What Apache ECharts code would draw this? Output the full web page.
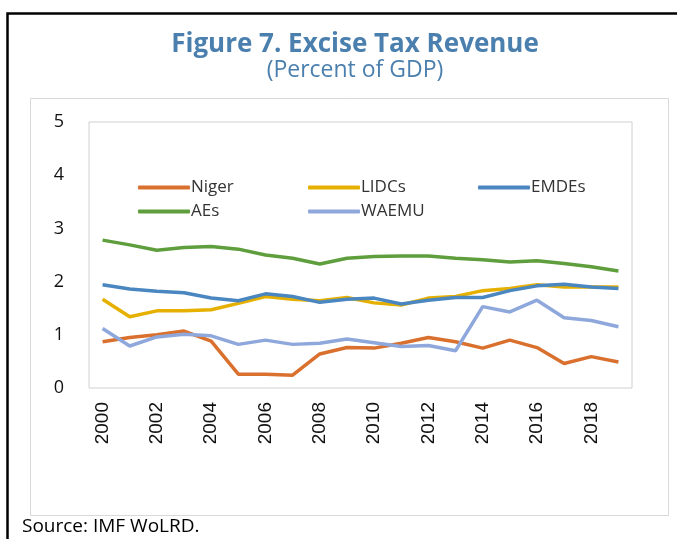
<!DOCTYPE html>
<html>
<head>
<meta charset="utf-8">
<script src="https://cdn.jsdelivr.net/npm/echarts@6/dist/echarts.min.js"></script>
<style>
  html, body { margin: 0; padding: 0; background: #fff; }
  #chart { width: 677px; height: 539px; }
</style>
</head>
<body>
<div id="chart"></div>
<script>
// data
var years = ["2000", "2001", "2002", "2003", "2004", "2005", "2006", "2007", "2008", "2009",
  "2010", "2011", "2012", "2013", "2014", "2015", "2016", "2017", "2018", "2019"];
var niger = [0.87, 0.95, 1.00, 1.07, 0.88, 0.26, 0.26, 0.24, 0.64, 0.76,
  0.75, 0.84, 0.95, 0.87, 0.75, 0.90, 0.76, 0.46, 0.59, 0.49];
var lidcs = [1.67, 1.34, 1.45, 1.45, 1.47, 1.59, 1.72, 1.67, 1.64, 1.70,
  1.60, 1.56, 1.69, 1.72, 1.83, 1.87, 1.94, 1.90, 1.90, 1.90];
var emdes = [1.94, 1.86, 1.82, 1.79, 1.69, 1.64, 1.77, 1.72, 1.61, 1.67,
  1.69, 1.58, 1.65, 1.70, 1.70, 1.83, 1.92, 1.95, 1.90, 1.87];
var aes = [2.78, 2.69, 2.59, 2.64, 2.66, 2.61, 2.50, 2.44, 2.33, 2.44,
  2.47, 2.48, 2.48, 2.44, 2.41, 2.37, 2.39, 2.34, 2.28, 2.20];
var waemu = [1.12, 0.79, 0.96, 1.01, 0.98, 0.82, 0.90, 0.82, 0.84, 0.92,
  0.85, 0.78, 0.80, 0.70, 1.53, 1.43, 1.65, 1.32, 1.27, 1.15];

var font = "'Open Sans', 'Noto Sans', sans-serif";
var titleColor = "#4a7fae";

function line(name, data, color) {
  return {
    name: name,
    type: "line",
    data: data,
    symbol: "none",
    lineStyle: { width: 3.5, color: color },
    itemStyle: { color: color }
  };
}

function legendAt(name, left, top) {
  return {
    data: [name],
    left: left,
    top: top,
    itemWidth: 52,
    itemHeight: 4,
    itemGap: 0,
    icon: "roundRect",
    textStyle: { fontSize: 17, color: "#333", fontFamily: font, padding: [0, 0, 0, -4] }
  };
}

var myChart = echarts.init(document.getElementById("chart"));
myChart.setOption({
  animation: false,
  backgroundColor: "#fff",
  title: [
    {
      text: "Figure 7. Excise Tax Revenue",
      left: 350,
      top: 27,
      textAlign: "center",
      textStyle: { fontSize: 26, fontWeight: "bold", color: titleColor, fontFamily: font }
    },
    {
      text: "(Percent of GDP)",
      left: 350,
      top: 54,
      textAlign: "center",
      textStyle: { fontSize: 23, fontWeight: "normal", color: titleColor, fontFamily: font }
    }
  ],
  legend: [
    legendAt("Niger", 133, 174),
    legendAt("LIDCs", 303, 174),
    legendAt("EMDEs", 473, 174),
    legendAt("AEs", 133, 198),
    legendAt("WAEMU", 303, 198)
  ],
  graphic: [
    {
      type: "polyline",
      shape: { points: [[7.5, 539], [7.5, 13.5], [677, 13.5]] },
      style: { stroke: "#000", lineWidth: 2.5, fill: null }
    },
    {
      type: "rect",
      shape: { x: 30.5, y: 98.5, width: 638, height: 417 },
      style: { stroke: "#d9d9d9", lineWidth: 1, fill: null },
      z: -1
    },
    {
      type: "text",
      left: 22,
      top: 517,
      style: { text: "Source: IMF WoLRD.", fontSize: 19, fill: "#000", fontFamily: font }
    }
  ],
  grid: {
    left: 89,
    right: 45,
    top: 122,
    bottom: 151,
    show: true,
    borderColor: "#d0d0d0",
    borderWidth: 1
  },
  xAxis: {
    type: "category",
    data: years,
    boundaryGap: true,
    axisLine: { show: false },
    axisTick: { show: false },
    axisLabel: {
      interval: 1,
      rotate: 90,
      fontSize: 19,
      color: "#111",
      fontFamily: "'Liberation Sans', Arial, sans-serif",
      margin: 14
    }
  },
  yAxis: {
    type: "value",
    min: 0,
    max: 5,
    interval: 1,
    splitLine: { show: false },
    axisLine: { show: false },
    axisTick: { show: false },
    axisLabel: { fontSize: 18, color: "#111", fontFamily: font, margin: 25 }
  },
  series: [
    line("Niger", niger, "#d9702e"),
    line("LIDCs", lidcs, "#e6b000"),
    line("EMDEs", emdes, "#4a86bf"),
    line("AEs", aes, "#5f9e3d"),
    line("WAEMU", waemu, "#8fa8dc")
  ]
});
</script>
</body>
</html>
